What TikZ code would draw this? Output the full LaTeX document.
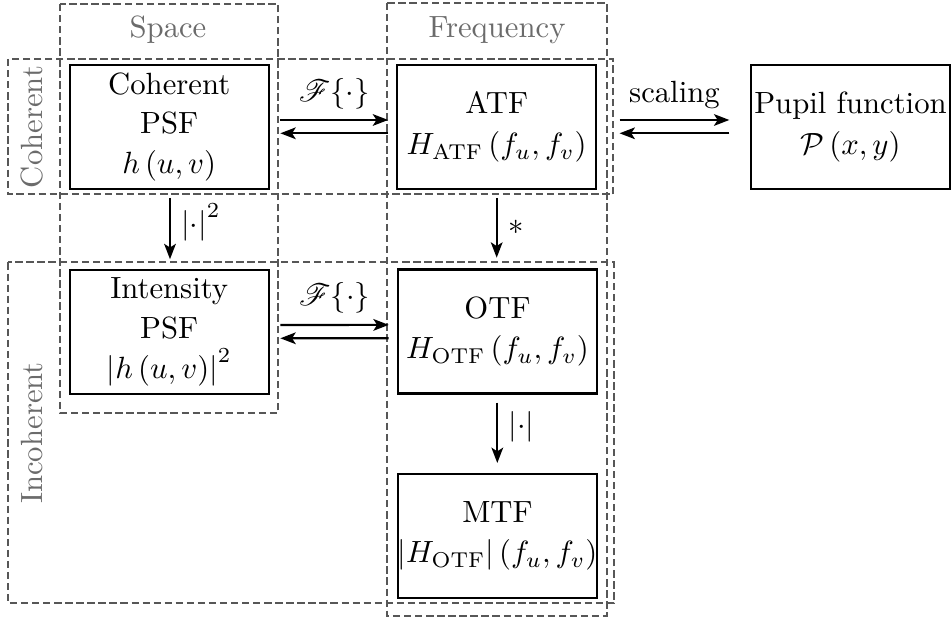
\documentclass[tikz,border=0pt]{standalone}
\usepackage{amsmath}
\usepackage{mathrsfs}
\usetikzlibrary{arrows.meta,calc}
\definecolor{dashgray}{gray}{0.34}
\definecolor{textgray}{gray}{0.42}
\begin{document}
\begin{tikzpicture}[x=0.3257pt,y=-0.3257pt,
  box/.style={draw, line width=0.7pt, minimum width=64.8pt, minimum height=40.39pt, align=center, inner sep=0pt},
  grp/.style={draw=dashgray, line width=0.65pt, dash pattern=on 2.4pt off 1.2pt},
  arr/.style={-{Stealth[length=5pt,width=3.8pt,inset=1.2pt]}, line width=0.7pt},
  glabel/.style={text=textgray}]
\useasboundingbox (0,0) rectangle (952,619);
% groups
\draw[grp] (60,4) rectangle (278.3,413);
\draw[grp] (387.3,2.7) rectangle (606.7,616);
\draw[grp] (8.3,59) rectangle (613.3,194.5);
\draw[grp] (8.3,262.5) rectangle (614,603.5);
\node[glabel] (lspace) at (168,30) {Space};
\node[glabel] (lfreq) at (497,30) {Frequency};
\node[glabel, rotate=90] (lcoh) at (31.7,127) {Coherent};
\node[glabel, rotate=90] (linc) at (31.7,433) {Incoherent};
% boxes
\node[box] (cpsf) at (169.2,127) {Coherent\\[1pt]PSF\\[1pt]$h\left(u,v\right)$};
\node[box] (atf) at (496.7,127) {ATF\\[1.2pt]$H_{\mathrm{ATF}}\left(f_u,f_v\right)$};
\node[box] (pupil) at (850.5,127) {Pupil function\\[1.2pt]$\mathcal{P}\left(x,y\right)$};
\node[box] (ipsf) at (169.2,331.6) {Intensity\\[1pt]PSF\\[1pt]$\left|h\left(u,v\right)\right|^2$};
\node[box] (otf) at (497.5,331.5) {OTF\\[1.2pt]$H_{\mathrm{OTF}}\left(f_u,f_v\right)$};
\node[box] (mtf) at (497.5,535.8) {MTF\\[1.2pt]$\left|H_{\mathrm{OTF}}\right|\left(f_u,f_v\right)$};
% horizontal arrows
\draw[arr] ($(cpsf.east)+(10.6,-7)$) -- node[midway,above] {$\mathscr{F}\{\cdot\}$} ($(atf.west)+(-8,-7)$);
\draw[arr] ($(atf.west)+(-8,6.3)$) -- ($(cpsf.east)+(10.6,6.3)$);
\draw[arr] ($(ipsf.east)+(10.6,-6.6)$) -- node[midway,above] {$\mathscr{F}\{\cdot\}$} ($(otf.west)+(-8.2,-6.6)$);
\draw[arr] ($(otf.west)+(-8.2,6.7)$) -- ($(ipsf.east)+(10.6,6.7)$);
\draw[arr] ($(atf.east)+(22.3,-7)$) -- node[midway,above] {scaling} ($(pupil.west)+(-20.6,-7)$);
\draw[arr] ($(pupil.west)+(-20.6,6.3)$) -- ($(atf.east)+(22.3,6.3)$);
% vertical arrows
\draw[arr] ($(cpsf.south)+(0.8,7.7)$) -- node[pos=0.4,right] {$\left|\cdot\right|^2$} ($(ipsf.north)+(0.8,-9.3)$);
\draw[arr] ($(atf.south)+(0,7.7)$) -- node[midway,right] {$*$} ($(otf.north)+(-0.8,-10.7)$);
\draw[arr] ($(otf.south)+(-0.2,8)$) -- node[pos=0.4,right] {$\left|\cdot\right|$} ($(mtf.north)+(-0.2,-9.7)$);
\end{tikzpicture}
\end{document}
